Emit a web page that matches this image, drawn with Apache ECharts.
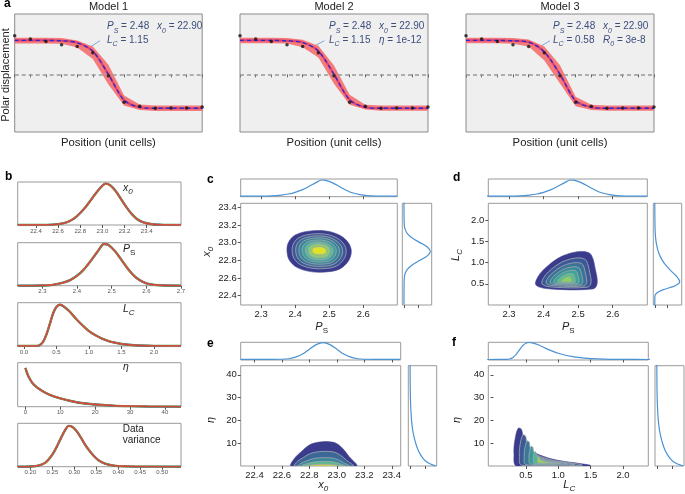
<!DOCTYPE html>
<html lang="en">
<head>
<meta charset="UTF-8">
<title>Domain wall fits</title>
<script src="https://cdn.jsdelivr.net/npm/echarts@6.0.0/dist/echarts.min.js"></script>
<style>
  body { margin: 0; background: #fff; }
  #chart { width: 685px; height: 494px; }
</style>
</head>
<body>
<div id="chart"></div>
<script>
const FONT = 'Liberation Sans, Arial, sans-serif';

// ---- panel a: polar displacement vs position ----
const positions = ['0', '1', '2', '3', '4', '5', '6', '7', '8', '9', '10', '11', '12'];
const measured = [1.14, 1.04, 0.97, 0.87, 0.82, 0.64, -0.04, -0.82, -0.94, -1.0, -0.99, -0.99, -0.96];
const fitModel1 = [1.0, 1.0, 1.0, 0.99, 0.93, 0.68, 0.0, -0.76, -0.97, -1.0, -1.0, -1.0, -1.0];
const upperModel1 = [1.08, 1.08, 1.08, 1.07, 1.0, 0.82, 0.28, -0.62, -0.89, -0.92, -0.92, -0.92, -0.92];
const lowerModel1 = [0.91, 0.91, 0.91, 0.9, 0.79, 0.45, -0.3, -0.92, -1.05, -1.08, -1.08, -1.08, -1.08];
const fitModel2 = [1.0, 1.0, 1.0, 0.99, 0.94, 0.69, 0.0, -0.75, -0.97, -1.0, -1.0, -1.0, -1.0];
const upperModel2 = [1.08, 1.08, 1.08, 1.07, 1.02, 0.84, 0.26, -0.6, -0.9, -0.92, -0.92, -0.92, -0.92];
const lowerModel2 = [0.92, 0.92, 0.92, 0.91, 0.8, 0.5, -0.28, -0.9, -1.04, -1.07, -1.07, -1.07, -1.07];
const fitModel3 = [1.0, 1.0, 1.0, 0.99, 0.95, 0.66, 0.0, -0.78, -0.97, -1.0, -1.0, -1.0, -1.0];
const upperModel3 = [1.08, 1.08, 1.08, 1.07, 1.03, 0.82, 0.27, -0.66, -0.9, -0.92, -0.92, -0.92, -0.92];
const lowerModel3 = [0.92, 0.92, 0.92, 0.9, 0.82, 0.41, -0.27, -0.94, -1.05, -1.07, -1.07, -1.07, -1.07];
const modelNames = ['Model 1', 'Model 2', 'Model 3'];
const paramTexts = [
  ['{i|P}{s|S}{n| = 2.48}', '{i|x}{s|0}{n| = 22.90}', '{i|L}{s|C}{n| = 1.15}', ''],
  ['{i|P}{s|S}{n| = 2.48}', '{i|x}{s|0}{n| = 22.90}', '{i|L}{s|C}{n| = 1.15}', '{i|η}{n| = 1e-12}'],
  ['{i|P}{s|S}{n| = 2.48}', '{i|x}{s|0}{n| = 22.90}', '{i|L}{s|C}{n| = 0.58}', '{i|R}{s|0}{n| = 3e-8}']
];

// ---- panel b: posterior densities [value, relative density] ----
const x0Chain = [[22.235, 0], [22.5, 0.004], [22.6, 0.02], [22.65, 0.045], [22.7, 0.09], [22.75, 0.17], [22.8, 0.29], [22.85, 0.44], [22.9, 0.62], [22.95, 0.8], [23.0, 0.95], [23.03, 1.0], [23.07, 0.96], [23.12, 0.82], [23.17, 0.62], [23.22, 0.42], [23.27, 0.25], [23.32, 0.13], [23.38, 0.055], [23.45, 0.018], [23.55, 0.004], [23.71, 0]];
const psDensity = [[2.229, 0], [2.3, 0.004], [2.33, 0.02], [2.36, 0.07], [2.38, 0.13], [2.4, 0.23], [2.42, 0.38], [2.44, 0.58], [2.46, 0.8], [2.478, 0.97], [2.49, 0.95], [2.51, 0.8], [2.53, 0.58], [2.55, 0.36], [2.57, 0.19], [2.59, 0.09], [2.61, 0.035], [2.64, 0.01], [2.7, 0]];
const lcDensity = [[-0.097, 0], [0.2, 0.003], [0.25, 0.03], [0.3, 0.12], [0.35, 0.3], [0.4, 0.55], [0.45, 0.8], [0.5, 0.95], [0.55, 1.0], [0.6, 0.97], [0.7, 0.84], [0.8, 0.66], [0.9, 0.5], [1.0, 0.36], [1.1, 0.26], [1.2, 0.18], [1.3, 0.12], [1.4, 0.08], [1.5, 0.05], [1.7, 0.018], [2.0, 0.004], [2.415, 0]];
const etaDensity = [[0, 0.88], [0.5, 0.76], [1, 0.67], [2, 0.54], [3, 0.46], [4, 0.4], [5, 0.35], [7, 0.27], [10, 0.19], [13, 0.13], [16, 0.085], [20, 0.05], [25, 0.025], [30, 0.012], [35, 0.005], [44.6, 0]];
const varDensity = [[0.171, 0], [0.2, 0.004], [0.22, 0.03], [0.235, 0.1], [0.25, 0.28], [0.26, 0.46], [0.27, 0.67], [0.28, 0.86], [0.287, 0.94], [0.295, 0.92], [0.305, 0.82], [0.315, 0.67], [0.325, 0.5], [0.335, 0.36], [0.345, 0.24], [0.355, 0.15], [0.37, 0.07], [0.39, 0.025], [0.42, 0.008], [0.46, 0.002], [0.543, 0]];
const x0Density = [[22.3, 0], [22.5, 0.003], [22.6, 0.011], [22.65, 0.042], [22.7, 0.13], [22.75, 0.31], [22.8, 0.58], [22.85, 0.84], [22.9, 0.95], [22.95, 0.84], [23.0, 0.58], [23.05, 0.31], [23.1, 0.13], [23.15, 0.042], [23.2, 0.011], [23.3, 0.003], [23.46, 0]];

// ---- panels c-f: joint density contours (outer outline, mode, level scales) ----
const outlineC = [[2.565, 22.9], [2.556, 23.0], [2.53, 23.085], [2.49, 23.132], [2.44, 23.13], [2.4, 23.085], [2.38, 23.0], [2.376, 22.9], [2.383, 22.8], [2.405, 22.72], [2.445, 22.672], [2.49, 22.668], [2.53, 22.7], [2.556, 22.79]];
const modeC = [2.471, 22.91];
const levelsC = [[1, 1], [0.84, 0.84], [0.73, 0.73], [0.63, 0.63], [0.53, 0.53], [0.43, 0.43], [0.34, 0.34], [0.23, 0.2]];
const outlineD = [[2.378, 0.47], [2.419, 0.38], [2.543, 0.38], [2.555, 0.51], [2.55, 0.83], [2.538, 1.18], [2.519, 1.26], [2.486, 1.24], [2.448, 1.13], [2.41, 0.91], [2.384, 0.67]];
const modeD = [2.466, 0.57];
const levelsD = [[1, 1], [0.8, 0.78], [0.66, 0.62], [0.53, 0.48], [0.41, 0.36], [0.29, 0.25], [0.17, 0.14]];
const outlineE = [[22.668, 0], [22.692, 3.4], [22.741, 6.3], [22.8, 9.25], [22.861, 10.4], [22.933, 10.7], [22.994, 10.0], [23.041, 7.8], [23.09, 4.1], [23.142, 0]];
const modeE = [22.905, 0];
const levelsE = [[1, 1], [0.9, 0.6], [0.78, 0.34], [0.68, 0.19], [0.55, 0.07]];
const outlineF = [[0.382, 16.6], [0.435, 15.9], [0.459, 11.5], [0.536, 7.8], [0.717, 4.8], [0.974, 2.6], [1.23, 1.5], [1.487, 0.4], [1.5, 0], [0.358, 0], [0.316, 5.6], [0.331, 11.5]];
const modeF = [0.78, 1.6];
const levelsF = [[1, 1], [0.82, 0.8], [0.66, 0.62], [0.5, 0.46], [0.36, 0.31], [0.22, 0.17]];

// tick values
const ticksX0b = [22.4, 22.6, 22.8, 23.0, 23.2, 23.4];
const ticksPs = [2.3, 2.4, 2.5, 2.6];
const ticksPsB = [2.3, 2.4, 2.5, 2.6, 2.7];
const ticksLc = [0.0, 0.5, 1.0, 1.5, 2.0];
const ticksLcMain = [0.5, 1.0, 1.5, 2.0];
const ticksEtaB = [0, 10, 20, 30, 40];
const ticksEta = [10, 20, 30, 40];
const ticksVar = [0.20, 0.25, 0.30, 0.35, 0.40, 0.45, 0.50, 0.55];
const ticksMarg = [0, 0.5];

// styles
const colorsC = ['#3b3b8e', '#3e5597', '#3b6f99', '#37889b', '#3ea19b', '#5cb895', '#8ccd6e', '#dde22c'];
const colorsD = ['#3b3b8e', '#3d5896', '#3a7298', '#368b9a', '#3ca59a', '#5dbd86', '#8bd35c'];
const colorsE = ['#3b3b8e', '#3d6797', '#39889a', '#5cb98f', '#dfe22a'];
const colorsF = ['#3b3b8e', '#3d5a96', '#3a7898', '#389a9a', '#54b88e', '#9ad55a'];
const chainColors = ['#3a9e3a', '#7a56b0', '#e07b2a', '#cf3b3b'];
const chainWidths = [2.4, 1.9, 1.5, 1.0];
const margColor = '#4a92d4';

const grids = [
  { left: 14.7, top: 14, width: 187.5, height: 118 },
  { left: 240, top: 14, width: 188, height: 118 },
  { left: 466, top: 14, width: 188, height: 118 },
  { left: 17.7, top: 182, width: 163.3, height: 43 },
  { left: 17.7, top: 242.7, width: 163.3, height: 43 },
  { left: 17.7, top: 302.7, width: 163.3, height: 43.3 },
  { left: 17.7, top: 362.7, width: 163.3, height: 44 },
  { left: 17.7, top: 423.3, width: 163.3, height: 43.4 },
  { left: 240.7, top: 179, width: 156.6, height: 17.7 },
  { left: 240.7, top: 203.3, width: 156.6, height: 101.7 },
  { left: 402.3, top: 203.3, width: 29.4, height: 101.7 },
  { left: 488.3, top: 179, width: 159, height: 17.7 },
  { left: 488.3, top: 203.3, width: 159, height: 101.7 },
  { left: 653.3, top: 203.3, width: 28.4, height: 101.7 },
  { left: 240.7, top: 342.3, width: 160, height: 17.7 },
  { left: 240.7, top: 365.7, width: 160, height: 100.3 },
  { left: 408.3, top: 365.7, width: 28.4, height: 100.3 },
  { left: 488.3, top: 342.3, width: 160, height: 17.7 },
  { left: 488.3, top: 365.7, width: 160, height: 100.3 },
  { left: 655, top: 365.7, width: 29, height: 100.3 }
].map((g, i) => Object.assign({
  show: true, borderWidth: 1,
  borderColor: i < 3 ? '#8a8a8a' : '#9a9a9a',
  backgroundColor: i < 3 ? '#efefef' : 'transparent'
}, g));

function valAxis(gridIndex, min, max, ticks, labelSize, decimals) {
  return {
    type: 'value', gridIndex, min, max,
    axisLine: { show: false }, splitLine: { show: false },
    axisTick: ticks ? { show: true, length: 3, lineStyle: { color: '#555' }, customValues: ticks } : { show: false },
    axisLabel: labelSize ? {
      customValues: ticks, fontSize: labelSize, color: labelSize < 8 ? '#555' : '#222',
      margin: labelSize < 8 ? 3 : 4, fontFamily: FONT,
      formatter: v => v.toFixed(decimals || 0)
    } : { show: false }
  };
}
function catAxis(gridIndex) {
  return {
    type: 'category', gridIndex, data: positions, boundaryGap: false,
    axisLine: { show: false }, splitLine: { show: false },
    axisTick: { show: true, interval: 0, length: 3, lineStyle: { color: '#666' } },
    axisLabel: { show: false }
  };
}

const xAxes = [
  catAxis(0), catAxis(1), catAxis(2),
  valAxis(3, 22.235, 23.71, ticksX0b, 6, 1),
  valAxis(4, 2.229, 2.70, ticksPsB, 6, 1),
  valAxis(5, -0.097, 2.415, ticksLc, 6, 1),
  valAxis(6, -2.2, 44.6, ticksEtaB, 6, 0),
  valAxis(7, 0.171, 0.543, ticksVar, 6, 2),
  valAxis(8, 2.24, 2.70, ticksPs),
  valAxis(9, 2.24, 2.70, ticksPs, 9.5, 1),
  valAxis(10, -0.06, 1.0, ticksMarg),
  valAxis(11, 2.24, 2.70, ticksPs),
  valAxis(12, 2.24, 2.70, ticksPs, 9.5, 1),
  valAxis(13, -0.06, 1.08, ticksMarg),
  valAxis(14, 22.3, 23.465, ticksX0b),
  valAxis(15, 22.3, 23.465, ticksX0b, 9.5, 1),
  valAxis(16, -0.06, 0.9, ticksMarg),
  valAxis(17, -0.08, 2.39, ticksLcMain),
  valAxis(18, -0.08, 2.39, ticksLcMain, 9.5, 1),
  valAxis(19, -0.06, 0.9, ticksMarg)
];
const yAxes = [
  valAxis(0, -1.7, 1.78), valAxis(1, -1.7, 1.78), valAxis(2, -1.7, 1.78),
  valAxis(3, 0, 1.04), valAxis(4, 0, 1.0), valAxis(5, 0, 1.05), valAxis(6, 0, 1.0), valAxis(7, 0, 1.0),
  valAxis(8, -0.03, 1.03),
  valAxis(9, 22.294, 23.445, ticksX0b, 9.5, 1),
  valAxis(10, 22.294, 23.445),
  valAxis(11, -0.03, 1.03),
  valAxis(12, 0, 2.4, ticksLcMain, 9.5, 1),
  valAxis(13, 0, 2.4),
  valAxis(14, -0.03, 0.97),
  valAxis(15, 0, 44, ticksEta, 9.5, 0),
  valAxis(16, 0, 44),
  valAxis(17, -0.03, 1.0),
  valAxis(18, 0, 44, ticksEta, 9.5, 0),
  valAxis(19, 0, 44)
];

const series = [];

// panel a
const fits = [fitModel1, fitModel2, fitModel3];
const uppers = [upperModel1, upperModel2, upperModel3];
const lowers = [lowerModel1, lowerModel2, lowerModel3];
for (let m = 0; m < 3; m++) {
  series.push({
    type: 'line', xAxisIndex: m, yAxisIndex: m, data: lowers[m],
    stack: 'band' + m, stackStrategy: 'all', symbol: 'none', silent: true, z: 1,
    lineStyle: { opacity: 0 },
    markLine: {
      silent: true, symbol: 'none', label: { show: false },
      lineStyle: { type: [4, 3], color: '#999', width: 1.5 },
      data: [{ yAxis: 0 }]
    }
  });
  series.push({
    type: 'line', xAxisIndex: m, yAxisIndex: m,
    data: uppers[m].map((v, i) => +(v - lowers[m][i]).toFixed(3)),
    stack: 'band' + m, stackStrategy: 'all', symbol: 'none', silent: true, z: 2,
    lineStyle: { opacity: 0 }, areaStyle: { color: '#f47b7b', opacity: 1 }
  });
  series.push({
    type: 'line', xAxisIndex: m, yAxisIndex: m, data: fits[m], smooth: 0.3,
    symbol: 'none', silent: true, z: 3, lineStyle: { color: '#e5416d', width: 2.2 }
  });
  series.push({
    type: 'line', xAxisIndex: m, yAxisIndex: m, data: fits[m], smooth: 0.3,
    symbol: 'none', silent: true, z: 4, lineStyle: { color: '#2a2ad0', width: 1.3, type: [4, 3] }
  });
  series.push({
    type: 'scatter', xAxisIndex: m, yAxisIndex: m, data: measured,
    symbolSize: 3.5, silent: true, z: 5, itemStyle: { color: '#111' }
  });
}

// panel b: several overlapping chains
[x0Chain, psDensity, lcDensity, etaDensity, varDensity].forEach((d, k) => {
  chainColors.forEach((c, j) => {
    series.push({
      type: 'line', xAxisIndex: 3 + k, yAxisIndex: 3 + k, data: d, smooth: 0.3,
      symbol: 'none', silent: true, lineStyle: { color: c, width: chainWidths[j] }
    });
  });
});

// marginals
function margTop(g, d) {
  return { type: 'line', xAxisIndex: g, yAxisIndex: g, data: d, smooth: 0.3, symbol: 'none', silent: true, lineStyle: { color: margColor, width: 1.2 } };
}
function margRight(g, d) {
  return { type: 'line', xAxisIndex: g, yAxisIndex: g, data: d.map(p => [p[1], p[0]]), smooth: 0.3, symbol: 'none', silent: true, lineStyle: { color: margColor, width: 1.2 } };
}
series.push(margTop(8, psDensity), margRight(10, x0Density));
series.push(margTop(11, psDensity), margRight(13, lcDensity));
series.push(margTop(14, x0Density), margRight(16, etaDensity));
series.push(margTop(17, lcDensity), margRight(19, etaDensity));

// contour fills
function contour(g, outline, mode, levels, colors) {
  return {
    type: 'custom', xAxisIndex: g, yAxisIndex: g, clip: true, silent: true,
    data: levels.map(l => [mode[0], mode[1], l[0], l[1]]),
    encode: { x: 0, y: 1 },
    renderItem(params, api) {
      const sx = api.value(2), sy = api.value(3);
      const pts = outline.map(p => api.coord([mode[0] + sx * (p[0] - mode[0]), mode[1] + sy * (p[1] - mode[1])]));
      const i = params.dataIndex;
      return {
        type: 'polygon', shape: { points: pts, smooth: 0.35 },
        style: { fill: colors[i], stroke: i === 0 ? '#4a4a90' : '#9ba4ad', lineWidth: i === 0 ? 0.6 : 0.9 }
      };
    }
  };
}
series.push(contour(9, outlineC, modeC, levelsC, colorsC));
series.push(contour(12, outlineD, modeD, levelsD, colorsD));
series.push(contour(15, outlineE, modeE, levelsE, colorsE));
series.push(contour(18, outlineF, modeF, levelsF, colorsF));

// text
function sym(size, color) {
  return {
    n: { fontSize: size, fontFamily: FONT, fill: color, lineHeight: size + 5 },
    i: { fontSize: size, fontFamily: FONT, fontStyle: 'italic', fill: color, lineHeight: size + 5 },
    s: { fontSize: Math.round(size * 0.72), fontFamily: FONT, fontStyle: 'italic', fill: color, lineHeight: size + 5, verticalAlign: 'bottom' },
    u: { fontSize: Math.round(size * 0.72), fontFamily: FONT, fill: color, lineHeight: size + 5, verticalAlign: 'bottom' }
  };
}
function txt(x, y, text, o) {
  o = o || {};
  return {
    type: 'text', x, y, rotation: o.rot || 0, silent: true,
    style: {
      text, fill: o.color || '#222', fontSize: o.size || 11, fontFamily: FONT,
      fontWeight: o.weight || 'normal', align: o.align || 'center', verticalAlign: 'middle',
      rich: o.rich
    }
  };
}
const annColor = '#3d4d7c';
const elements = [];
[['a', 4, 4], ['b', 5, 177], ['c', 207, 180], ['d', 453, 178], ['e', 207, 344], ['f', 452, 343]].forEach(p => {
  elements.push(txt(p[1], p[2], p[0], { size: 12, weight: 'bold', color: '#000', align: 'left' }));
});
const col1 = [107, 329, 553], col2 = [157, 379, 603], leader = [[100, 40.7, 90.7, 46.7], [324.3, 40.7, 313.3, 46.7], [550, 40.7, 540, 46.7]];
const annRich = sym(10, annColor);
for (let m = 0; m < 3; m++) {
  const g = grids[m];
  const cx = g.left + g.width / 2;
  elements.push(txt(cx, 7.3, modelNames[m], { size: 11 }));
  elements.push(txt(cx, 143.3, 'Position (unit cells)', { size: 11.3 }));
  const t = paramTexts[m];
  elements.push(txt(col1[m], 26.7, t[0], { align: 'left', rich: annRich }));
  elements.push(txt(col2[m], 26.7, t[1], { align: 'left', rich: annRich }));
  elements.push(txt(col1[m], 40, t[2], { align: 'left', rich: annRich }));
  if (t[3]) elements.push(txt(col2[m], 40, t[3], { align: 'left', rich: annRich }));
  elements.push({ type: 'line', silent: true, shape: { x1: leader[m][0], y1: leader[m][1], x2: leader[m][2], y2: leader[m][3] }, style: { stroke: '#7aa6da', lineWidth: 1 } });
}
elements.push(txt(5.5, 75, 'Polar displacement', { size: 11, rot: Math.PI / 2 }));

// panel b labels
const bRich = sym(10.5, '#222');
elements.push(txt(123, 188.3, '{i|x}{s|0}', { align: 'left', rich: bRich }));
elements.push(txt(123, 249, '{i|P}{u|S}', { align: 'left', rich: bRich }));
elements.push(txt(123, 309.3, '{i|L}{s|C}', { align: 'left', rich: bRich }));
elements.push(txt(123, 366.7, '{i|η}', { align: 'left', rich: bRich }));
elements.push(txt(122.7, 429.3, 'Data', { align: 'left', size: 10 }));
elements.push(txt(122.7, 440.7, 'variance', { align: 'left', size: 10 }));

// axis names c-f
const nRich = sym(11, '#222');
elements.push(txt(321.7, 327, '{i|P}{u|S}', { rich: nRich }));
elements.push(txt(568.3, 327, '{i|P}{u|S}', { rich: nRich }));
elements.push(txt(323.3, 485, '{i|x}{s|0}', { rich: nRich }));
elements.push(txt(569.3, 485, '{i|L}{s|C}', { rich: nRich }));
elements.push(txt(206.7, 251.7, '{i|x}{s|0}', { rich: nRich, rot: Math.PI / 2 }));
elements.push(txt(455.7, 255, '{i|L}{s|C}', { rich: nRich, rot: Math.PI / 2 }));
elements.push(txt(211, 420, '{i|η}', { rich: nRich, rot: Math.PI / 2 }));
elements.push(txt(457, 420, '{i|η}', { rich: nRich, rot: Math.PI / 2 }));

const chart = echarts.init(document.getElementById('chart'), null, { renderer: 'canvas' });
chart.setOption({
  animation: false,
  backgroundColor: '#fff',
  textStyle: { fontFamily: FONT },
  grid: grids,
  xAxis: xAxes,
  yAxis: yAxes,
  series,
  graphic: { elements }
});
</script>
</body>
</html>
